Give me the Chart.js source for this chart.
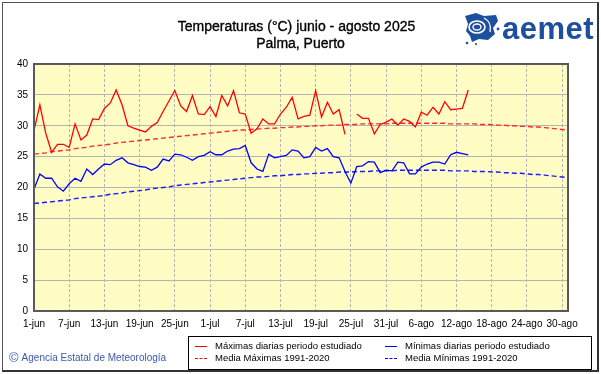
<!DOCTYPE html>
<html>
<head>
<meta charset="utf-8">
<script src="https://cdn.jsdelivr.net/npm/chart.js@4/dist/chart.umd.min.js"></script>
<style>
    body{ margin:0; background:#fff; }
    #wrap{ position:relative; width:601px; height:374px; background:#fff; overflow:hidden;
           font-family:"Liberation Sans", Arial, sans-serif; }
    #chart{ position:absolute; left:0; top:0; display:block; }
    .frame{ position:absolute; left:2px; top:2px; width:594px; height:367px;
            border:1px solid #555; border-right:2px solid #333; border-bottom:2px solid #333; }
    .title{ position:absolute; width:601px; text-align:center; font-size:14px; color:#000; white-space:nowrap;
            -webkit-text-stroke:0.35px #000; }
    .copy{ position:absolute; left:9px; top:350px; font-size:10px; color:#3a58b0; white-space:nowrap; }
    .copy span{ font-size:13px; vertical-align:-1px; margin-right:3px; }
    .legend{ position:absolute; left:188px; top:336px; width:402px; height:32px; border:1px solid #000; background:#fff;
             font-size:9.5px; color:#000; }
    .item{ position:absolute; white-space:nowrap; }
    .item i{ position:absolute; top:6px; width:12px; border-top-width:1.5px; border-top-style:solid; }
    .item b{ font-weight:normal; position:absolute; left:20px; top:0; }
    .logo{ position:absolute; left:462px; top:12px; }
    .logotext{ position:absolute; left:502px; top:11px; font-size:31px; font-weight:bold; color:#1d4f9f; letter-spacing:0.5px; }
</style>
</head>
<body>
<div id="wrap">
    <canvas id="chart" width="601" height="374"></canvas>
    <div class="frame"></div>
    <div class="title" style="top:18px; left:-4px;">Temperaturas (°C) junio - agosto 2025</div>
    <div class="title" style="top:35px;">Palma, Puerto</div>

    <!-- aemet logo (rough) -->
    <svg class="logo" width="38" height="34" viewBox="0 0 38 34">
        <path d="M3 4 L14 1 L22 4 L34 3 L36 9 L31 16 L33 22 L26 28 L17 27 L10 30 L8 24 L4 19 L6 12 Z" fill="#1d4f9f"/>
        <ellipse cx="15" cy="15" rx="8" ry="6" fill="none" stroke="#fff" stroke-width="1.6"/>
        <ellipse cx="15" cy="15" rx="4" ry="3" fill="none" stroke="#fff" stroke-width="1.4"/>
        <path d="M22 6 Q30 10 28 20" fill="none" stroke="#fff" stroke-width="1.3"/>
        <circle cx="5" cy="31" r="1.3" fill="#1d4f9f"/>
        <circle cx="14" cy="32" r="1.1" fill="#1d4f9f"/>
        <circle cx="36" cy="17" r="1.4" fill="#1d4f9f"/>
    </svg>
    <div class="logotext">aemet</div>

    <div class="copy"><span>©</span>Agencia Estatal de Meteorología</div>

    <div class="legend">
        <div class="item" style="left:6px; top:3px;"><i style="border-top-color:#ff0000;"></i><b>Máximas diarias periodo estudiado</b></div>
        <div class="item" style="left:196px; top:3px;"><i style="border-top-color:#0000ff;"></i><b>Mínimas diarias periodo estudiado</b></div>
        <div class="item" style="left:6px; top:15px;"><i style="border-top-color:#ff0000; border-top-style:dashed;"></i><b>Media Máximas 1991-2020</b></div>
        <div class="item" style="left:196px; top:15px;"><i style="border-top-color:#0000ff; border-top-style:dashed;"></i><b>Media Mínimas 1991-2020</b></div>
    </div>
</div>

<script>
// categories: one label per day, 1-jun .. 31-ago
const meses = ["jun", "jul", "ago"];
const diasMes = [30, 31, 31];
const etiquetas = [];
meses.forEach((m, k) => {
    for (let d = 1; d <= diasMes[k]; d++) etiquetas.push(d + "-" + m);
});

// y axis ticks
const yTicks = [0, 5, 10, 15, 20, 25, 30, 35, 40];

// daily maxima (25-jul missing)
const maxDiarias = [
    29.2, 33.4, 28.8, 25.7, 27.0, 27.0, 26.5, 30.3, 27.7, 28.5,
    31.1, 31.0, 32.8, 33.7, 35.8, 33.4, 30.0, 29.6, 29.3, 29.0,
    29.9, 30.5, 32.3, 34.0, 35.7, 33.2, 32.3, 34.9, 31.9, 31.8,
    33.1, 31.5, 34.9, 33.2, 35.7, 32.1, 31.9, 28.8, 29.5, 31.1,
    30.3, 30.3, 31.9, 33.0, 34.6, 31.1, 31.5, 31.7, 35.7, 31.4,
    33.8, 31.9, 32.6, 28.6, null, 31.9, 31.2, 31.2, 28.7, 30.2,
    30.6, 31.1, 30.1, 31.1, 30.7, 29.8, 32.2, 31.7, 33.0, 31.9,
    33.9, 32.6, 32.7, 32.8, 35.8
];

// daily minima
const minDiarias = [
    19.7, 22.2, 21.5, 21.5, 20.1, 19.4, 20.6, 21.5, 21.0, 23.0,
    22.1, 23.0, 23.8, 23.7, 24.4, 24.8, 24.0, 23.7, 23.4, 23.3,
    22.8, 23.3, 24.6, 24.3, 25.4, 25.3, 24.9, 24.4, 25.0, 25.2,
    25.8, 25.3, 25.3, 25.9, 26.2, 26.3, 26.8, 24.0, 23.0, 22.6,
    25.4, 24.8, 25.0, 25.2, 26.1, 25.9, 24.8, 25.0, 26.5, 25.9,
    26.3, 25.0, 24.8, 22.6, 20.7, 23.4, 23.5, 24.2, 24.1, 22.4,
    22.8, 22.7, 24.1, 24.0, 22.2, 22.2, 23.3, 23.8, 24.1, 24.1,
    23.8, 25.3, 25.7, 25.5, 25.3
];

// normals 1991-2020
const mediaMax = [
    25.4, 25.5, 25.6, 25.8, 25.9, 26.0, 26.1, 26.3, 26.4, 26.5,
    26.7, 26.8, 26.9, 27.0, 27.2, 27.3, 27.4, 27.5, 27.6, 27.7,
    27.8, 27.9, 28.0, 28.1, 28.2, 28.3, 28.4, 28.5, 28.6, 28.7,
    28.8, 28.9, 29.0, 29.1, 29.2, 29.3, 29.3, 29.4, 29.5, 29.5,
    29.6, 29.6, 29.7, 29.7, 29.8, 29.8, 29.9, 29.9, 30.0, 30.0,
    30.1, 30.1, 30.1, 30.2, 30.2, 30.2, 30.3, 30.3, 30.3, 30.3,
    30.3, 30.4, 30.4, 30.4, 30.4, 30.4, 30.4, 30.4, 30.4, 30.4,
    30.4, 30.3, 30.3, 30.3, 30.3, 30.3, 30.2, 30.2, 30.2, 30.1,
    30.1, 30.0, 30.0, 29.9, 29.9, 29.8, 29.8, 29.7, 29.6, 29.5,
    29.4, 29.3
];

const mediaMin = [
    17.4, 17.5, 17.6, 17.7, 17.8, 17.9, 18.0, 18.2, 18.3, 18.4,
    18.5, 18.6, 18.7, 18.9, 19.0, 19.1, 19.3, 19.4, 19.5, 19.6,
    19.8, 19.9, 20.0, 20.1, 20.3, 20.4, 20.5, 20.6, 20.7, 20.8,
    20.9, 21.0, 21.1, 21.2, 21.3, 21.4, 21.5, 21.6, 21.7, 21.7,
    21.8, 21.9, 21.9, 22.0, 22.1, 22.1, 22.2, 22.2, 22.3, 22.3,
    22.4, 22.4, 22.5, 22.5, 22.5, 22.6, 22.6, 22.6, 22.7, 22.7,
    22.7, 22.7, 22.8, 22.8, 22.8, 22.8, 22.8, 22.8, 22.8, 22.8,
    22.8, 22.7, 22.7, 22.7, 22.7, 22.6, 22.6, 22.6, 22.5, 22.5,
    22.4, 22.4, 22.3, 22.3, 22.2, 22.1, 22.1, 22.0, 21.9, 21.8,
    21.7, 21.6
];

// yellow plot background + dark frame round the plot area
const plotArea = {
    id: "plotArea",
    beforeDraw(chart){
        const {ctx, chartArea: a} = chart;
        ctx.save();
        ctx.fillStyle = "#fffdc4";
        ctx.fillRect(a.left, a.top, a.right - a.left, a.bottom - a.top);
        ctx.restore();
    },
    afterDraw(chart){
        const {ctx, chartArea: a} = chart;
        ctx.save();
        ctx.strokeStyle = "#5a5a5a";
        ctx.lineWidth = 2;
        ctx.strokeRect(a.left, a.top, a.right - a.left, a.bottom - a.top);
        ctx.restore();
    }
};

const tickFont = {family: "'Liberation Sans', Arial, sans-serif", size: 10};

new Chart(document.getElementById("chart"), {
    type: "line",
    data: {
        labels: etiquetas,
        datasets: [
            {label: "Máximas diarias periodo estudiado", data: maxDiarias, borderColor: "#ff0000", borderWidth: 1.3},
            {label: "Mínimas diarias periodo estudiado", data: minDiarias, borderColor: "#0000ff", borderWidth: 1.3},
            {label: "Media Máximas 1991-2020", data: mediaMax, borderColor: "#ff2a2a", borderWidth: 1.4, borderDash: [5, 3]},
            {label: "Media Mínimas 1991-2020", data: mediaMin, borderColor: "#1a1aff", borderWidth: 1.4, borderDash: [5, 3]}
        ]
    },
    options: {
        responsive: false,
        animation: false,
        spanGaps: false,
        elements: {point: {radius: 0}, line: {tension: 0}},
        layout: {padding: {top: 64, right: 33, bottom: 0, left: 0}},
        plugins: {legend: {display: false}, title: {display: false}, tooltip: {enabled: false}},
        scales: {
            x: {
                type: "category",
                offset: false,
                grid: {
                    drawTicks: false,
                    color: (c) => (c.index % 6 === 0 ? "#b4b4b4" : "transparent")
                },
                border: {display: false, dash: [3, 2]},
                ticks: {
                    autoSkip: false, maxRotation: 0, minRotation: 0, padding: 7,
                    font: tickFont, color: "#000",
                    callback: (v, i) => (i % 6 === 0 ? etiquetas[i] : "")
                },
                afterFit: (s) => { s.height = 63; }
            },
            y: {
                min: 0,
                max: 40,
                afterBuildTicks: (s) => { s.ticks = yTicks.map((v) => ({value: v})); },
                grid: {drawTicks: false, color: "#b4b4b4"},
                border: {display: false},
                ticks: {padding: 6, font: tickFont, color: "#000"},
                afterFit: (s) => { s.width = 34; }
            }
        }
    },
    plugins: [plotArea]
});
</script>
</body>
</html>
